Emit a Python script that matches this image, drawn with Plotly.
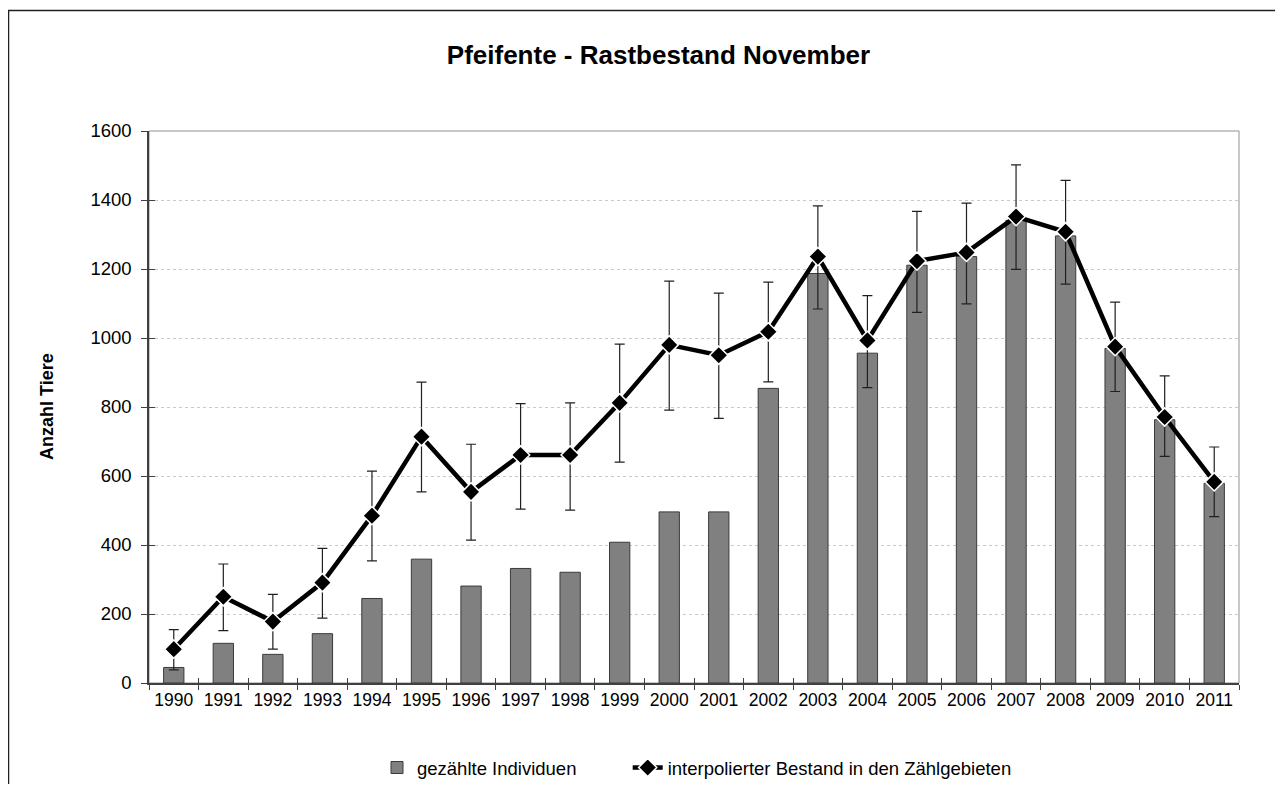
"""Pfeifente - Rastbestand November: counted birds (bars) and interpolated stock (line)."""

import plotly.graph_objects as go

FONT = "Arial, Liberation Sans, sans-serif"

years = [str(y) for y in range(1990, 2012)]
counted = [45, 115, 83, 143, 245, 359, 281, 332, 321, 408, 496, 496,
           854, 1187, 956, 1211, 1236, 1341, 1296, 970, 763, 579]
interpolated = [98, 250, 178, 291, 485, 714, 554, 661, 661, 812, 980, 950,
                1018, 1236, 993, 1223, 1248, 1352, 1308, 975, 771, 583]
upper = [155, 345, 257, 390, 614, 872, 692, 810, 812, 982, 1165, 1130,
         1162, 1383, 1123, 1367, 1391, 1502, 1457, 1104, 890, 684]
lower = [38, 152, 98, 188, 354, 554, 414, 504, 501, 640, 791, 767,
         873, 1084, 856, 1074, 1099, 1199, 1156, 845, 657, 482]

err_plus = [u - v for u, v in zip(upper, interpolated)]
err_minus = [v - l for v, l in zip(interpolated, lower)]

# page pixel -> paper coords (plot area spans x 149..1239, y 131..683 on the page)
def px(x):
    return (x - 149) / 1090


def py(y):
    return (683 - y) / 552


fig = go.Figure()
fig.add_trace(go.Bar(
    x=years, y=counted,
    name="gezählte Individuen" + "&nbsp;" * 9,
    marker=dict(color="#808080", line=dict(color="#3a3a3a", width=1)),
))
fig.add_trace(go.Scatter(
    x=years, y=interpolated,
    name="interpolierter Bestand in den Zählgebieten",
    mode="lines+markers",
    line=dict(color="black", width=4.5),
    marker=dict(symbol="diamond", size=14, color="black",
                line=dict(color="white", width=1.5)),
    error_y=dict(type="data", symmetric=False, array=err_plus,
                 arrayminus=err_minus, color="#202020", thickness=1.2, width=5),
))
# empty trace on the overlay axes that draw the inner half of the crossing ticks
fig.add_trace(go.Scatter(x=[None], y=[None], xaxis="x2", yaxis="y2",
                         showlegend=False, hoverinfo="skip"))

# outer chart frame (only left and top edges are in the picture)
fig.add_shape(type="line", xref="paper", yref="paper",
              x0=px(8.5), x1=px(8.5), y0=py(10), y1=py(800),
              line=dict(color="#202020", width=1.5))
fig.add_shape(type="line", xref="paper", yref="paper",
              x0=px(8), x1=px(1300), y0=py(10.5), y1=py(10.5),
              line=dict(color="#202020", width=1.5))

# plot area border
fig.add_shape(type="rect", xref="paper", yref="paper", x0=0, x1=1, y0=0, y1=1,
              line=dict(color="#909090", width=1), layer="below")

fig.add_annotation(text="<b>Anzahl Tiere</b>", xref="paper", yref="paper",
                   x=px(47), y=0.5, textangle=-90, showarrow=False,
                   xanchor="center", yanchor="middle",
                   font=dict(size=18, family=FONT, color="black"))

fig.update_layout(
    width=1267, height=776,
    margin=dict(l=141, r=36, t=123, b=101, autoexpand=False),
    paper_bgcolor="white", plot_bgcolor="white",
    font=dict(family=FONT, size=18, color="black"),
    title=dict(text="<b>Pfeifente - Rastbestand November</b>",
               font=dict(size=26, family=FONT, color="black"),
               xref="container", x=0.5134, xanchor="center",
               yref="container", y=0.9394, yanchor="middle"),
    bargap=0.59,
    showlegend=True,
    legend=dict(orientation="h", x=px(697), xanchor="center",
                y=py(768), yanchor="middle",
                font=dict(size=18.5, family=FONT), itemwidth=30,
                traceorder="normal"),
    xaxis=dict(type="category", range=[-0.5, len(years) - 0.5],
               showline=True, linecolor="#404040",
               linewidth=1.5, ticks="outside", tickson="boundaries",
               ticklen=5, tickcolor="#404040", showgrid=False,
               tickangle=0, tickfont=dict(size=17.5)),
    xaxis2=dict(overlaying="x", anchor="y", range=[-0.5, len(years) - 0.5],
                tick0=-0.5, dtick=1, ticks="inside", ticklen=5,
                tickcolor="#404040", showticklabels=False, showgrid=False,
                showline=False, zeroline=False),
    yaxis=dict(range=[0, 1600], dtick=200, showline=True,
               linecolor="#404040", linewidth=1.5, ticks="outside",
               ticklen=6, tickcolor="#404040", showgrid=True,
               gridcolor="#c8c8c8", griddash="dot", gridwidth=1,
               zeroline=False, tickfont=dict(size=18.5),
               ticklabelstandoff=6),
    yaxis2=dict(overlaying="y", anchor="x", side="left", range=[0, 1600],
                dtick=200, ticks="inside", ticklen=6, tickcolor="#404040",
                showticklabels=False, showgrid=False, showline=False,
                zeroline=False),
)

fig.write_html("out.html")
